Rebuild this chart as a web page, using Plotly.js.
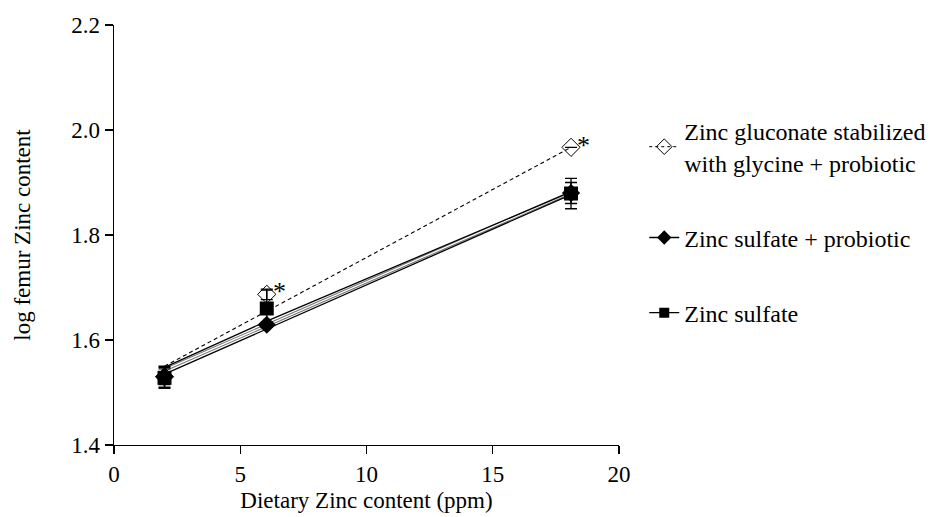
<!DOCTYPE html>
<html>
<head>
<meta charset="utf-8">
<script src="https://cdn.plot.ly/plotly-3.0.1.min.js"></script>
<style>
html,body{margin:0;padding:0;background:#fff;}
#chart{width:935px;height:517px;}
</style>
</head>
<body>
<div id="chart"></div>
<script>
// ---- data ----
const doseX = [2, 6.05, 18.1];
const gluconateY = [1.53, 1.687, 1.967];
const gluconateErr = [0.02, 0.01, 0.0];
const sulfateProbioticY = [1.53, 1.629, 1.88];
const sulfateProbioticErr = [0.015, 0.005, 0.02];
const sulfateY = [1.528, 1.66, 1.879];
const sulfateErr = [0.02, 0.035, 0.029];

// fitted lines as drawn in the reference
const gluconateFitX = [2, 18.1];
const gluconateFitY = [1.55, 1.967];
const sulfateProbioticFitX = [2, 6.05, 18.1];
const sulfateProbioticFitY = [1.548, 1.636, 1.882];
const sulfateFitX = [2, 18.1];
const sulfateFitY = [1.543, 1.881];
const sulfateFit2X = [2, 18.1];
const sulfateFit2Y = [1.535, 1.877];

// significance marks
const starX = [6.57, 18.61];
const starY = [1.693, 1.970];

const seriesNames = ['Zinc gluconate stabilized<br>with glycine + probiotic', 'Zinc sulfate + probiotic', 'Zinc sulfate'];

const FONT = 'Liberation Serif';

const traces = [
  {x: gluconateFitX, y: gluconateFitY, mode: 'lines', line: {color: '#000', width: 1.1, dash: '4px,3px'}, showlegend: false, hoverinfo: 'skip'},
  {x: sulfateFitX, y: sulfateFitY, mode: 'lines', line: {color: '#777', width: 3.4}, showlegend: false, hoverinfo: 'skip'},
  {x: sulfateFitX, y: sulfateFitY, mode: 'lines', line: {color: '#fff', width: 1.2}, showlegend: false, hoverinfo: 'skip'},
  {x: sulfateProbioticFitX, y: sulfateProbioticFitY, mode: 'lines', line: {color: '#000', width: 1.3}, showlegend: false, hoverinfo: 'skip'},
  {x: sulfateFit2X, y: sulfateFit2Y, mode: 'lines', line: {color: '#000', width: 1.3}, showlegend: false, hoverinfo: 'skip'},
  {x: doseX, y: gluconateY, mode: 'markers', showlegend: false,
   marker: {symbol: 'diamond-open', size: 14, color: '#000', line: {width: 1}},
   error_y: {type: 'data', array: gluconateErr, color: '#000', thickness: 1.3, width: 6}},
  {x: doseX, y: sulfateProbioticY, mode: 'markers', showlegend: false,
   marker: {symbol: 'diamond', size: 14, color: '#000'},
   error_y: {type: 'data', array: sulfateProbioticErr, color: '#000', thickness: 1.3, width: 6}},
  {x: doseX, y: sulfateY, mode: 'markers', showlegend: false,
   marker: {symbol: 'square', size: 14, color: '#000'},
   error_y: {type: 'data', array: sulfateErr, color: '#000', thickness: 1.3, width: 6}},
  {x: [null], y: [null], mode: 'lines+markers', name: seriesNames[0], legendgroup: 'a',
   line: {color: '#000', width: 1, dash: '3px,3px'}, marker: {symbol: 'diamond-open', size: 12, color: '#000', line: {width: 1}}},
  {x: [null], y: [null], mode: 'lines+markers', name: seriesNames[1], legendgroup: 'b',
   line: {color: '#000', width: 1.3}, marker: {symbol: 'diamond', size: 11, color: '#000'}},
  {x: [null], y: [null], mode: 'lines+markers', name: seriesNames[2], legendgroup: 'c',
   line: {color: '#000', width: 1.3}, marker: {symbol: 'square', size: 10, color: '#000'}}
];

const annotations = starX.map((x, i) => ({
  x: x, y: starY[i], xref: 'x', yref: 'y', text: '*', showarrow: false,
  font: {family: FONT, size: 26, color: '#000'}, xanchor: 'center', yanchor: 'middle'
}));

const layout = {
  width: 935, height: 517,
  margin: {l: 114, r: 316, t: 25, b: 72, autoexpand: false},
  paper_bgcolor: '#fff', plot_bgcolor: '#fff',
  font: {family: FONT, size: 22, color: '#000'},
  showlegend: true,
  legend: {x: 1.05, y: 0.80, xanchor: 'left', yanchor: 'top', traceorder: 'grouped',
           tracegroupgap: 41, font: {family: FONT, size: 24, color: '#000'}, bgcolor: 'rgba(0,0,0,0)'},
  xaxis: {range: [0, 20], tickvals: [0, 5, 10, 15, 20], ticktext: ['0', '5', '10', '15', '20'],
          showgrid: false, zeroline: false, showline: true, linecolor: '#000', linewidth: 1.3,
          ticks: 'outside', ticklen: 8, tickwidth: 1.3, tickcolor: '#000',
          tickfont: {family: FONT, size: 23, color: '#000'},
          title: {text: 'Dietary Zinc content (ppm)', standoff: 6, font: {family: FONT, size: 23, color: '#000'}}},
  yaxis: {range: [1.4, 2.2], tickvals: [1.4, 1.6, 1.8, 2.0, 2.2], ticktext: ['1.4', '1.6', '1.8', '2.0', '2.2'],
          showgrid: false, zeroline: false, showline: true, linecolor: '#000', linewidth: 1.3,
          ticks: 'outside', ticklen: 8, tickwidth: 1.3, tickcolor: '#000',
          tickfont: {family: FONT, size: 23, color: '#000'},
          title: {text: 'log femur Zinc content', standoff: 34, font: {family: FONT, size: 23, color: '#000'}}},
  annotations: annotations
};

Plotly.newPlot('chart', traces, layout, {displayModeBar: false, staticPlot: true});
</script>
</body>
</html>
